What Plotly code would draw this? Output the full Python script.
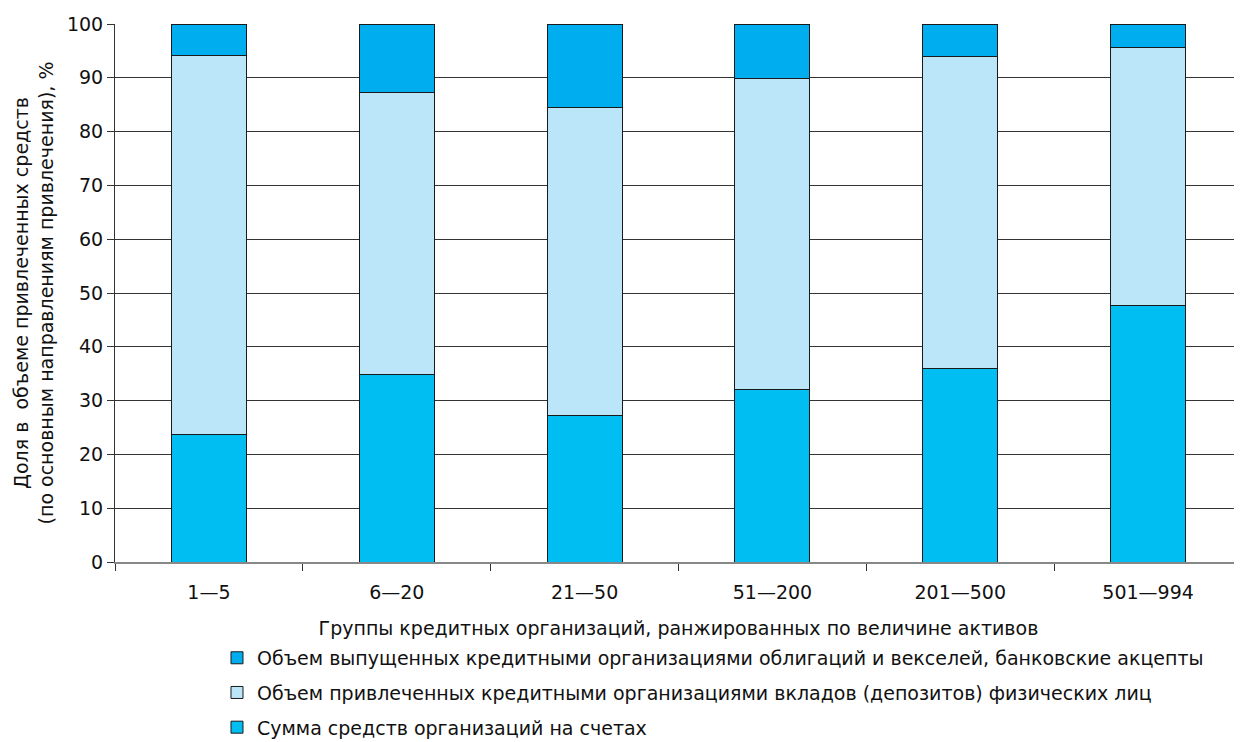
import plotly.graph_objects as go

categories = ["1—5", "6—20", "21—50", "51—200", "201—500", "501—994"]
accounts = [23.7, 34.9, 27.3, 32.0, 36.0, 47.7]
deposits = [70.4, 52.3, 57.2, 57.9, 58.0, 47.9]
bonds = [5.9, 12.8, 15.5, 10.1, 6.0, 4.4]

names = [
    "Сумма средств организаций на счетах",
    "Объем привлеченных кредитными организациями вкладов (депозитов) физических лиц",
    "Объем выпущенных кредитными организациями облигаций и векселей, банковские акцепты",
]
colors = ["#00BDF2", "#BBE5F8", "#00AEEF"]
ranks = [3, 2, 1]
series = [accounts, deposits, bonds]

fig = go.Figure()
for i, (n, c, v, r) in enumerate(zip(names, colors, series, ranks)):
    fig.add_trace(go.Bar(
        x=categories, y=v, name=n, legendgroup=str(i), legendrank=r,
        marker=dict(color=c, line=dict(color="#1a1a1a", width=1)),
        width=0.4,
    ))

font = "DejaVu Sans, sans-serif"
fig.update_layout(
    width=1234, height=734,
    barmode="stack",
    plot_bgcolor="white", paper_bgcolor="white",
    margin=dict(l=107, r=0, t=16, b=180, autoexpand=False),
    font=dict(family=font, size=19, color="#111"),
    showlegend=True,
    legend=dict(
        orientation="v", x=0.0905, y=-0.143, xanchor="left", yanchor="top",
        traceorder="grouped", tracegroupgap=7,
        font=dict(size=19, family=font, color="#111"),
        itemwidth=30,
    ),
    xaxis=dict(
        type="category", tickson="boundaries", ticks="outside", ticklen=7,
        tickcolor="#333", showline=True, linecolor="#888", linewidth=2,
        tickfont=dict(size=19), showgrid=False, ticklabelstandoff=12,
        title=dict(text="Группы кредитных организаций, ранжированных по величине активов",
                   font=dict(size=19), standoff=20),
    ),
    yaxis=dict(
        range=[0, 100], dtick=10, ticks="outside", ticklen=7, tickcolor="#333",
        showline=True, linecolor="#333", linewidth=1,
        showgrid=True, gridcolor="#333", gridwidth=1,
        tickfont=dict(size=19), zeroline=False,
        title=dict(text="Доля в  объеме привлеченных средств<br>(по основным направлениям привлечения), %",
                   font=dict(size=19), standoff=8),
    ),
)
fig.write_html("out.html")
